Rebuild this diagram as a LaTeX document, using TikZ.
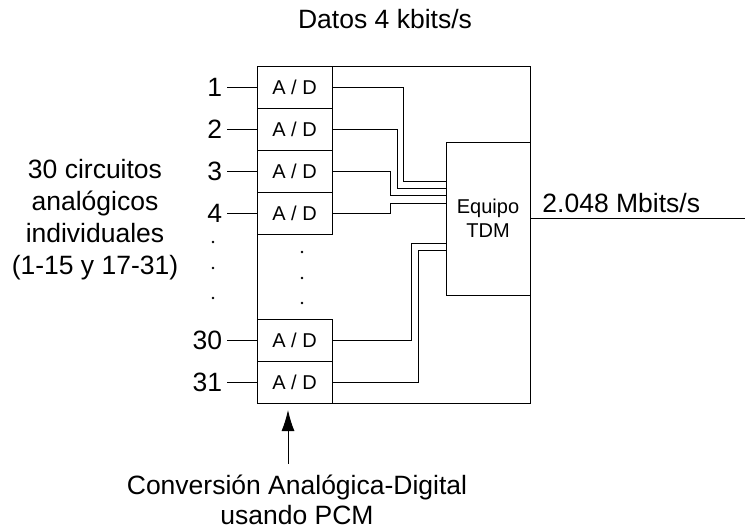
\documentclass[tikz,border=0pt]{standalone}
\usepackage{fontspec}
\setmainfont{Liberation Sans}
\usetikzlibrary{positioning, arrows.meta}
\tikzstyle{adbox} = [rectangle, draw=black, minimum width=75pt, minimum height=42pt, outer sep=0pt, inner sep=0pt, font=\fontsize{20}{24}\selectfont]
\tikzstyle{tdmbox} = [rectangle, draw=black, minimum width=84pt, minimum height=153pt, outer sep=0pt, align=center, font=\fontsize{20}{24}\selectfont]
\tikzstyle{num} = [inner sep=5pt, outer sep=0pt, font=\fontsize{26.5}{32}\selectfont]
\tikzstyle{txt} = [inner sep=3pt, align=center, font=\fontsize{26.5}{32}\selectfont]
\tikzstyle{arrow} = [->, >={Latex[length=21pt,width=13pt]}]
\begin{document}
\begin{tikzpicture}[x=1pt, y=-1pt, line width=0.9pt]
            \useasboundingbox (0,0) rectangle (747,531);
            \node (frame) [draw=black, minimum width=273pt, minimum height=337pt, outer sep=0pt, anchor=north west] at (257,66) {};
            \node (ad1) [adbox, anchor=north west] at (frame.north west) {A / D};
            \node (ad2) [adbox, below=0pt of ad1] {A / D};
            \node (ad3) [adbox, below=0pt of ad2] {A / D};
            \node (ad4) [adbox, below=0pt of ad3] {A / D};
            \node (ad31) [adbox, anchor=south west] at (frame.south west) {A / D};
            \node (ad30) [adbox, above=0pt of ad31] {A / D};
            \node (tdm) [tdmbox, anchor=north east] at ([yshift=-76pt]frame.north east) {Equipo\\TDM};

            \node (datos) [txt, anchor=base] at (385,28) {Datos 4 kbits/s};
            \node (circuitos) [txt] at (95,220) {30 circuitos\\analógicos\\individuales\\(1-15 y 17-31)};
            \node (conv) [txt, font=\fontsize{26.5}{30}\selectfont] at (297,500) {Conversión Analógica-Digital\\usando PCM};
            \node (rate) [txt, inner sep=0pt, anchor=base west] at ([xshift=12pt, yshift=6pt]tdm.east) {2.048 Mbits/s};

            % inputs
            \foreach \i in {1,2,3,4,30,31} {
                \node (n\i) [num, left=30pt of ad\i] {\i};
                \draw (n\i) -- (ad\i);
            }
            % wires into the multiplexer
            \foreach \i/\dx/\dy in {1/71/37, 2/65/30, 3/58/23, 4/58/15, 30/79/-25, 31/86/-32}
                \draw (ad\i.east) -- ++(\dx,0) |- ([yshift=\dy pt]tdm.west);

            \coordinate (out) at ([xshift=215pt]tdm.east);
            \draw (tdm.east) -- (out);

            \foreach \y in {242,268,298} \fill (213,\y) circle (1.3pt);
            \foreach \y in {252,278,303} \fill (302,\y) circle (1.3pt);

            \coordinate (tip) at (288,410);
            \draw [arrow] ([yshift=8pt]conv.north -| tip) -- (tip);
        \end{tikzpicture}
\end{document}
